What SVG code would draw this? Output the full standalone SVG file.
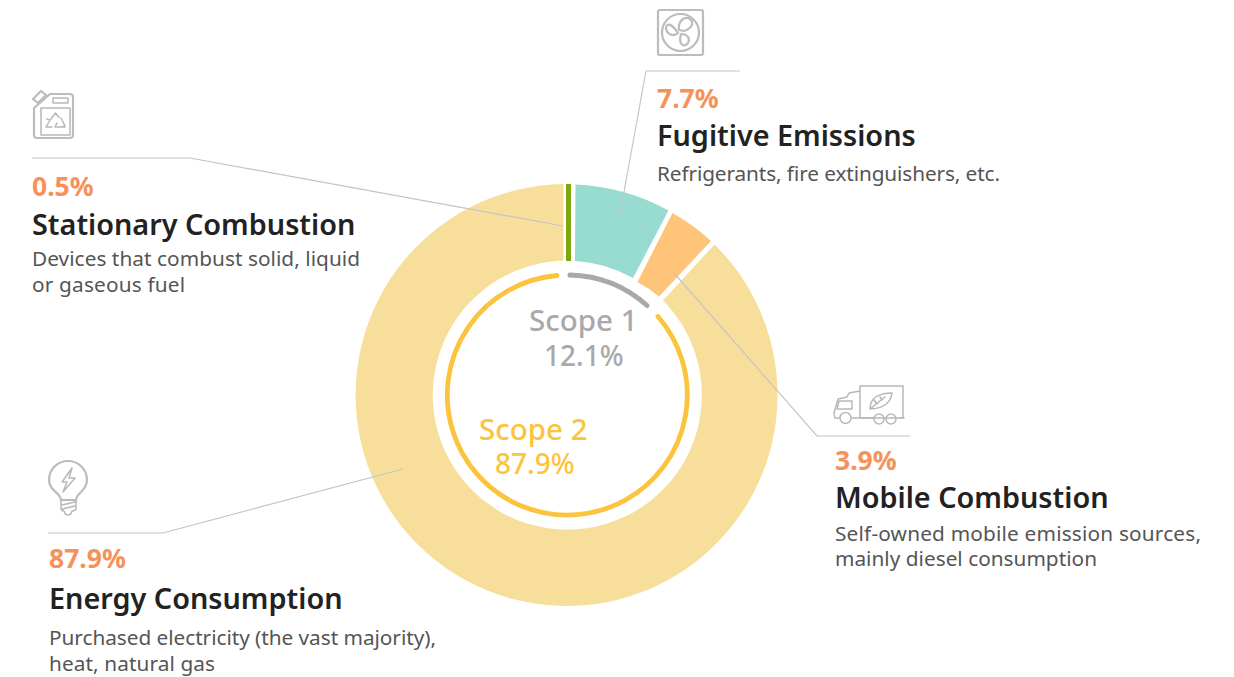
<svg xmlns="http://www.w3.org/2000/svg" width="1234" height="677" viewBox="0 0 1234 677">
<style>
text{font-family:"Noto Sans","Liberation Sans",sans-serif}
.pct{font-size:26.500px;font-weight:700;fill:#f7915a}
.ttl{font-size:28.800px;font-weight:600;fill:#222}
.dsc{font-size:20.800px;fill:#555}
.lead{fill:none;stroke:#c4c4c8;stroke-width:1.200}
.ic{fill:none;stroke:#bcbcbc;stroke-width:2.200;stroke-linejoin:round;stroke-linecap:round}
.ic1{fill:none;stroke:#b8b8b8;stroke-width:1.500;stroke-linejoin:round;stroke-linecap:round}
.sc{font-size:29.500px;font-weight:500}
.pc2{font-size:28px;font-weight:500}
</style>
<rect width="1234" height="677" fill="#fff"/>
<g id="donut">
<path id="seg-energy" fill="#f7df9b" d="M663 300.500A134.500 134.500 0 1 1 563.500 260.600L563.500 184A211 211 0 1 0 714.500 244.500Z"/>
<path id="seg-stationary" fill="#7fa90a" d="M566 184H571V261H566Z"/>
<path id="seg-fugitive" fill="#98dbd0" d="M575.500 184.500A211 211 0 0 1 668.500 210.500L633 278A134.500 134.500 0 0 0 575 261Z"/>
<path id="seg-mobile" fill="#fdc47a" d="M672.500 213A211 211 0 0 1 711 241L659 296.500A134.500 134.500 0 0 0 637.500 282Z"/>
<path id="ring-scope1" fill="none" stroke="#a9a9ad" stroke-width="5" stroke-linecap="round" d="M570 275A120 120 0 0 1 647 305.500"/>
<path id="ring-scope2" fill="none" stroke="#fbc43c" stroke-width="4.800" stroke-linecap="round" d="M658 316.500A120 120 0 1 1 557 275.500"/>
</g>
<g id="connectors">
<path class="lead" d="M32 158H190L563 226"/>
<path class="lead" d="M740 71H646L620 214"/>
<path class="lead" d="M910 436H817L674 273"/>
<path class="lead" d="M48 533H163L403 469"/>
</g>
<g id="node-stationary">
<g transform="translate(32,90)">
<path class="ic" d="M18 4H38Q41 4 41 7V45Q41 48 38 48H5Q2 48 2 45V18Z"/>
<path class="ic1" d="M9 18H38V45H9Z"/>
<path class="ic1" d="M21 8H36V13H21Z"/>
<path class="ic" d="M1 9L9 1L14 5L6 13Z"/>
<path class="ic1" d="M19 29L23.500 23L27 27.500M29 28L33 36L29 37M25 33L23 37H33M20 37H14L18 30L15 29"/>
</g>
<text class="pct" x="32" y="196">0.5%</text>
<text class="ttl" x="32" y="235">Stationary Combustion</text>
<text class="dsc" x="32" y="266" textLength="328">Devices that combust solid, liquid</text>
<text class="dsc" x="32" y="292" textLength="153">or gaseous fuel</text>
</g>
<g id="node-fugitive">
<g transform="translate(657,9)">
<rect class="ic" x="1" y="1" width="45" height="45" rx="2"/>
<circle class="ic" cx="23.500" cy="23.500" r="18.500"/>
<path class="ic" d="M21 24C16 29 9 24 9 19C10 13 15 15 21 24ZM22 21C21 14 25 8 31 9C38 12 36 19 27 22ZM24 25C32 25 33 31 31 34C27 39 21 36 24 25Z"/>
</g>
<text class="pct" x="657" y="108">7.7%</text>
<text class="ttl" x="657" y="146">Fugitive Emissions</text>
<text class="dsc" x="657" y="181" textLength="343">Refrigerants, fire extinguishers, etc.</text>
</g>
<g id="node-mobile">
<g transform="translate(833,385)">
<path class="ic1" d="M27 1H70V33H27Z"/>
<path class="ic1" d="M27 6L16 8L14 12L5 14L1 28L2 33H6M19 33H40M67 33H71"/>
<path class="ic1" d="M6 16H19V24H4Z"/>
<circle class="ic1" cx="12.500" cy="33" r="5.500"/><circle class="ic1" cx="46" cy="34" r="5"/><circle class="ic1" cx="58" cy="34" r="5"/>
<path class="ic1" d="M37 24C37 13 46 8 59 8C58 18 49 24 37 24ZM37 24L52 12M41 15L44 19M47 12L49 15"/>
</g>
<text class="pct" x="835" y="470">3.9%</text>
<text class="ttl" x="835" y="508">Mobile Combustion</text>
<text class="dsc" x="835" y="541" textLength="366">Self-owned mobile emission sources,</text>
<text class="dsc" x="835" y="566" textLength="262">mainly diesel consumption</text>
</g>
<g id="node-energy">
<g transform="translate(48,460)">
<path class="ic" d="M13 40C13 33 1 31 1 20A19 19 0 0 1 39 20C39 31 28 33 28 40Z"/>
<path class="ic1" d="M13 40H28V48Q28 51 24 51Q23 55 20 55Q17 55 16 51Q13 51 13 48ZM14 45L27 42M14 49L27 46"/>
<path class="ic1" d="M24 8L14 22H19L15 32L27 18H21Z"/>
</g>
<text class="pct" x="49" y="568">87.9%</text>
<text class="ttl" x="49" y="609">Energy Consumption</text>
<text class="dsc" x="49" y="645" textLength="387">Purchased electricity (the vast majority),</text>
<text class="dsc" x="49" y="671" textLength="166">heat, natural gas</text>
</g>
<g id="label-scope1"><text class="sc" fill="#a9a9ad" x="529" y="331">Scope 1</text><text class="pc2" fill="#a9a9ad" x="544" y="366">12.1%</text></g>
<g id="label-scope2"><text class="sc" fill="#fbc43c" x="479" y="440">Scope 2</text><text class="pc2" fill="#fbc43c" x="495" y="474">87.9%</text></g>
</svg>
